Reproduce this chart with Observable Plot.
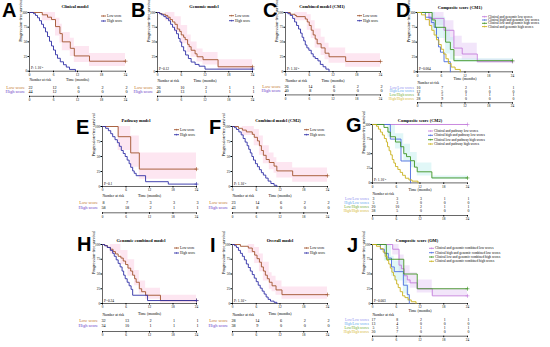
<!DOCTYPE html>
<html><head><meta charset="utf-8">
<script src="https://cdn.jsdelivr.net/npm/d3@7"></script>
<script src="https://cdn.jsdelivr.net/npm/@observablehq/plot@0.6"></script>
<style>
body{margin:0;background:#fff;}
#root{position:relative;width:550px;height:347px;overflow:hidden;background:#fff;}
</style></head><body><div id="root"></div>
<script>
// ---------- shared ticks ----------
const months = [0, 6, 12, 18, 24];
const survTicks = [0, 25, 50, 75, 100];

// ---------- A: Clinical model ----------
const A_low = [[0,100],[3.2,96],[4.5,92],[5.5,88],[6.5,76],[7.6,64],[8.2,50],[10.2,39],[11.2,26],[15,17],[24,17]];
const A_high = [[0,100],[1,98],[1.5,95],[2,91],[2.5,86],[3,80],[3.5,74],[4,67],[4.5,59],[5,51],[5.5,43],[6,36],[6.5,28],[7,22],[7.7,16],[8.5,11],[9.2,7],[10,3],[11.5,0]];
const A_lowBand = [[0,100,100],[3.2,86,100],[6.5,60,90],[7.6,48,80],[8.2,35,66],[10.2,25,56],[11.2,15,42],[15,8,30],[24,8,30]];
const A_riskLow = [22,12,6,2,2];
const A_riskHigh = [44,12,0,0,0];

// ---------- B: Genomic model ----------
const B_low = [[0,100],[0.6,98],[1.2,97],[2,95],[2.6,92],[3.2,88],[3.8,84],[4.4,80],[5,72],[5.6,68],[6,62],[6.6,58],[7,54],[7.6,46],[8,42],[8.5,36],[9.5,30],[10,25],[11.5,20],[15.3,8],[24,8]];
const B_high = [[0,100],[0.5,98],[1,96],[1.6,93],[2.2,90],[2.8,86],[3.3,80],[3.8,75],[4.3,70],[4.8,64],[5.3,56],[5.7,50],[6.1,42],[6.6,35],[7.1,28],[7.8,22],[8.5,16],[9.5,12],[10.5,9],[12,4],[24,4]];
const B_lowBand = [[0,100,100],[2,86,100],[4.4,66,93],[6,47,78],[7.6,32,62],[8.5,24,50],[10,16,38],[11.5,11,32],[15.3,3,20],[24,3,20]];
const B_riskLow = [26,10,2,1,1];
const B_riskHigh = [40,13,1,1,1];

// ---------- C: Combined model (CM1) ----------
const C_low = [[0,100],[1.2,97],[2.4,95],[2.8,93],[5,89],[5.5,84],[6,78],[6.5,70],[7,62],[7.5,55],[8,47],[9,40],[10,31],[11,25],[15.2,17],[24,17]];
const C_high = [[0,100],[0.6,98],[1.2,95],[1.8,90],[2.3,84],[2.8,78],[3.3,72],[3.8,65],[4.2,58],[4.6,52],[5,45],[5.4,40],[5.9,36],[6.5,30],[7,25],[7.5,22],[8.2,18],[8.8,12],[9.5,8],[10.2,4],[11,0]];
const C_lowBand = [[0,100,100],[2.4,86,100],[5.5,70,96],[6.5,56,86],[7.5,40,72],[9,27,58],[10,20,48],[11,14,40],[15.2,7,30],[24,7,30]];
const C_riskLow = [26,14,6,2,2];
const C_riskHigh = [40,8,0,0,0];

// ---------- D: Composite score (CM1) ----------
const D_LL = [[0,100],[2.9,90],[6.7,70],[9.2,40],[11.3,30],[15.1,17],[24,17]];
const D_HL = [[0,100],[2,92],[3.5,83],[4.2,75],[4.8,58],[5.3,42],[5.8,33],[6.7,17],[8.3,0]];
const D_LH = [[0,100],[3.7,87.5],[4.5,75],[7.1,50],[8.3,37.5],[9.2,18.75],[24,18.75]];
const D_HH = [[0,100],[1,96],[2,88],[3,78],[3.6,70],[4.2,62],[4.8,54],[5.4,46],[6,38],[6.6,30],[7.2,22],[7.8,14],[8.5,8],[9.5,4],[10.8,0]];
const D_LLBand = [[0,100,100],[2.9,78,100],[6.7,52,86],[9.2,26,60],[11.3,20,48],[15.1,15,21],[24,15,21]];
const D_LHBand = [[0,100,100],[3.7,70,100],[4.5,56,92],[7.1,30,72],[8.3,20,58],[9.2,16,22],[24,16,22]];
const D_risk = [[10,7,2,1,1],[12,5,0,0,0],[8,5,1,1,1],[28,9,0,0,0]];

// ---------- E: Pathway model ----------
const E_low = [[0,100],[4,83],[7.2,56],[9.4,29],[24,29]];
const E_high = [[0,100],[0.8,97],[1.5,93],[2.1,88],[2.6,83],[3.2,78],[3.8,73],[4.3,67],[4.8,60],[5.3,55],[5.8,50],[6.3,44],[6.8,38],[7.2,32],[7.7,26],[8.1,22],[8.6,18],[11,8],[16.8,4],[24,4]];
const E_lowBand = [[0,100,100],[4,60,100],[7.2,32,84],[9.4,12,56],[24,12,56]];
const E_riskLow = [8,7,3,3,3];
const E_riskHigh = [58,18,2,1,1];

// ---------- F: Combined model (CM2) ----------
const F_low = [[0,100],[1.5,97],[2.5,94],[3.5,91],[5,87],[5.5,82],[6.3,76],[6.8,68],[7.3,60],[7.8,52],[8.5,45],[9.3,40],[10.5,34],[11.2,26],[15.2,18],[24,18]];
const F_high = [[0,100],[0.5,98],[1,95],[1.6,91],[2.2,86],[2.7,80],[3.2,74],[3.7,68],[4.1,62],[4.5,56],[4.9,50],[5.3,44],[5.8,38],[6.3,33],[6.8,28],[7.3,23],[7.8,19],[8.4,14],[9,9],[9.7,5],[10.5,2],[11.2,0]];
const F_lowBand = [[0,100,100],[2.5,85,100],[5.5,68,95],[6.8,52,84],[7.8,38,68],[9.3,28,56],[10.5,22,48],[11.2,14,40],[15.2,7,31],[24,7,31]];
const F_riskLow = [23,14,6,2,2];
const F_riskHigh = [43,8,0,0,0];

// ---------- G: Composite score (CM2) ----------
const G_LL = [[0,100],[24,100]];
const G_HL = [[0,100],[4.5,75],[7.2,37.5],[9.6,0]];
const G_LH = [[0,100],[2.9,95],[3.9,87],[4.5,79],[5.8,70],[7.1,62],[7.9,50],[8.6,45],[9.6,38],[10.6,27],[11.3,19],[15,8.5],[24,8.5]];
const G_HH = [[0,100],[1,97],[1.5,92],[2,87],[2.5,82],[3,76],[3.5,70],[3.8,62],[4.2,55],[4.6,48],[5,40],[5.4,34],[5.8,28],[6.4,23],[7,18],[7.6,13],[8.3,8],[9.2,5],[10,3],[11.5,0]];
const G_LHBand = [[0,100,100],[3.9,78,100],[5.8,58,84],[7.9,36,66],[9.6,26,52],[11.3,12,34],[15,6,12],[24,6,12]];
const G_risk = [[3,3,3,1,1],[5,3,0,0,0],[20,10,2,1,1],[38,5,0,0,0]];

// ---------- H: Genomic combined model ----------
const H_low = [[0,100],[0.6,98],[1.3,95],[2,92],[2.7,88],[3.3,84],[4,80],[4.7,77],[5.3,72],[5.9,66],[6.5,60],[7.2,55],[7.7,48],[8.2,42],[8.6,36],[9.4,25],[10,20],[11,14],[14.8,5],[24,5]];
const H_high = [[0,100],[0.5,98],[1.2,95],[2,90],[2.6,85],[3,80],[3.5,74],[4,68],[4.5,62],[5,55],[5.4,48],[5.8,42],[6.3,36],[6.8,30],[7.3,24],[7.7,14],[11.5,5],[24,5]];
const H_lowBand = [[0,100,100],[2,84,100],[4.7,66,90],[6.5,46,74],[8.2,30,56],[9.4,16,38],[11,7,26],[14.8,1,14],[24,1,14]];
const H_riskLow = [32,13,2,1,1];
const H_riskHigh = [34,10,1,1,1];

// ---------- I: Overall model ----------
const I_low = [[0,100],[2,97],[4,94],[5,88],[5.6,82],[6.2,76],[6.8,70],[7.3,62],[7.8,55],[8.3,48],[8.8,42],[9.3,36],[10,30],[11,23],[12.5,15],[24,15]];
const I_high = [[0,100],[0.5,98],[1,95],[1.5,90],[2,85],[2.5,80],[3,74],[3.5,67],[4,61],[4.5,55],[5,49],[5.5,43],[6,37],[6.5,31],[7,26],[7.5,21],[8,16],[8.5,11],[9,7],[9.6,4],[10.5,2],[11.2,0]];
const I_lowBand = [[0,100,100],[4,85,100],[5.6,68,95],[6.8,54,84],[7.8,38,70],[9.3,24,52],[10,20,46],[11,14,38],[12.5,7,28],[24,7,28]];
const I_riskLow = [28,14,6,2,2];
const I_riskHigh = [38,9,0,0,0];

// ---------- J: Composite score (OM) ----------
const J_LL = [[0,100],[5.1,92],[6.7,65],[7.3,59],[8,47],[8.8,40],[9.5,35],[11.3,25],[15.1,13],[24,13]];
const J_HL = [[0,100],[2,92],[3,85],[4,77],[4.8,62],[5.5,54],[7.8,31],[8.8,15],[9.3,0]];
const J_LH = [[0,100],[3.5,75],[7.9,50],[11.3,25],[24,25]];
const J_HH = [[0,100],[1,97],[2,93],[2.7,87],[3.2,80],[3.7,73],[4.1,67],[4.5,60],[4.9,53],[5.3,47],[5.7,40],[6.1,33],[6.5,27],[7,20],[7.6,13],[8.2,10],[9,6],[9.8,3],[11,0]];
const J_LLBand = [[0,100,100],[5.1,82,100],[6.7,52,82],[8,34,64],[9.5,26,52],[11.3,18,40],[15.1,13,25],[24,13,25]];
const J_HLBand = [[0,100,100],[3,72,100],[4.8,46,80],[5.5,38,72],[7.8,16,50],[8.8,4,32],[9.3,0,0]];
const J_risk = [[17,8,2,1,1],[13,4,0,0,0],[5,3,1,1,1],[30,7,0,0,0]];

// ---------- labels ----------
const twoLabels = ["Low score", "High score"];
const compTableLabels = ["Low/Low scores", "High/Low scores", "Low/High scores", "High/High scores"];
const D_legend = ["Clinical and genomic low scores","Clinical high and genomic low scores","Clinical low and genomic high scores","Clinical and genomic high scores"];
const G_legend = ["Clinical and pathway low scores","Clinical high and pathway low scores","Clinical low and pathway high scores","Clinical and pathway high scores"];
const J_legend = ["Clinical and genomic combined low scores","Clinical high and genomic combined low scores","Clinical low and genomic combined high scores","Clinical and genomic combined high scores"];

// ---------- styles ----------
const LOW = "#a0522d", HIGH = "#2f2fa6";
const LOW_TXT = "#c47a30", HIGH_TXT = "#6a3cc8";
const CC = ["#c47ddb", "#4d6de0", "#3e9422", "#c9b11c"];
const CT = ["#8c8cf0", "#5aa6ee", "#6aa82c", "#d4b42a"];
const BAND = "#fbcde4", LAV = "#e2c6f4", CYAN = "#bdeeee";
const SERIF = "Liberation Serif, Times New Roman, serif";

const root = document.getElementById("root");

function place(svg, left, top) {
  svg.style.position = "absolute";
  svg.style.left = left + "px";
  svg.style.top = top + "px";
  root.appendChild(svg);
}

function curvePanel(p) {
  const mL = 46, mR = 6, mT = 4, mB = 16;
  const w = p.x1 - p.x0, h = p.yBot - p.yTop;
  const marks = [];
  (p.bands || []).forEach(b => marks.push(Plot.areaY(b.data, {x: d => d[0], y1: d => d[1], y2: d => d[2], curve: "step-after", fill: b.color, fillOpacity: b.op})));
  marks.push(Plot.ruleY([0], {strokeWidth: 0.6}));
  marks.push(Plot.ruleX([0], {strokeWidth: 0.6}));
  p.curves.forEach(c => {
    marks.push(Plot.line(c.data, {x: d => d[0], y: d => d[1], curve: "step-after", stroke: c.color, strokeWidth: 0.9}));
    const last = c.data[c.data.length - 1];
    if (last[1] > 0) marks.push(Plot.dot([last], {x: d => d[0], y: d => d[1], symbol: "plus", r: 1.4, stroke: c.color, strokeWidth: 0.6}));
  });
  marks.push(Plot.axisX({ticks: months, tickSize: 1.5, tickPadding: 0.8, label: null, fontSize: 3.4}));
  marks.push(Plot.axisY({ticks: survTicks, tickSize: 1.5, tickPadding: 0.8, label: null, fontSize: 3.4}));
  marks.push(Plot.text(["Progression-free survival"], {frameAnchor: "left", rotate: -90, dx: -9, fontSize: 4.3}));
  marks.push(Plot.text(["Time (months)"], {frameAnchor: "bottom", lineAnchor: "middle", dy: p.timeY - p.yBot, fontSize: 3.9}));
  marks.push(Plot.text(["Number at risk"], {frameAnchor: "bottom-left", textAnchor: "start", lineAnchor: "middle", dy: p.nrY - p.yBot, fontSize: 3.6}));
  marks.push(Plot.text([p.pval], {frameAnchor: "bottom-left", textAnchor: "start", lineAnchor: "middle", dx: 1.5, dy: -3, fontSize: 3.5}));
  const svg = Plot.plot({
    width: w + mL + mR, height: h + mT + mB,
    marginLeft: mL, marginRight: mR, marginTop: mT, marginBottom: mB,
    x: {domain: [0, 24]}, y: {domain: [0, 100]},
    style: {background: "transparent", overflow: "visible", fontFamily: SERIF, fontSize: "3.4px", color: "black"},
    marks
  });
  place(svg, p.x0 - mL, p.yTop - mT);
}

function riskTable(p) {
  const rows = p.rows, n = rows.length;
  const mL = 40, mR = 6, mT = 3, mB = 7;
  const innerH = p.axisY - p.row0Y;
  const cells = [];
  rows.forEach((r, i) => r.values.forEach((v, j) => cells.push({t: months[j], y: n - i, v})));
  const marks = [
    Plot.ruleY([0], {strokeWidth: 0.6}),
    Plot.axisX({ticks: months, tickSize: 1.5, tickPadding: 0.8, label: null, fontSize: 3.4}),
    Plot.text(cells, {x: "t", y: "y", text: d => String(d.v), fontSize: p.numSize, dx: 1})
  ];
  rows.forEach((r, i) => marks.push(Plot.text([r.label], {y: () => n - i, frameAnchor: "left", textAnchor: "end", dx: p.labelDx, fill: r.color, fontSize: p.labelSize})));
  const svg = Plot.plot({
    width: (p.x1 - p.x0) + mL + mR, height: innerH + mT + mB,
    marginLeft: mL, marginRight: mR, marginTop: mT, marginBottom: mB,
    x: {domain: [0, 24]}, y: {domain: [0, n], axis: null},
    style: {background: "transparent", overflow: "visible", fontFamily: SERIF, fontSize: "3.4px", color: "black"},
    marks
  });
  place(svg, p.x0 - mL, p.row0Y - mT);
}

// ---------- panel layout ----------
function two(id, x0, x1, yTop, yBot, low, high, band, rLow, rHigh, o) {
  return Object.assign({id, x0, x1, yTop, yBot,
    curves: [{data: low, color: LOW}, {data: high, color: HIGH}], bands: [{data: band, color: BAND, op: 0.5}],
    legend: twoLabels.map((l, i) => ({label: l, color: i ? HIGH : LOW})),
    legendX: x0 + 72, legendY: [yTop + 3.7, yTop + 8.7], legendSize: 3.5,
    rows: [{label: twoLabels[0], color: LOW_TXT, values: rLow}, {label: twoLabels[1], color: HIGH_TXT, values: rHigh}],
    labelDx: -4.5, labelSize: 4.5, numSize: 4.2}, o);
}
function comp(id, x0, x1, yTop, yBot, series, risk, legend, bands, o) {
  return Object.assign({id, x0, x1, yTop, yBot,
    curves: series.map((s, i) => ({data: s, color: CC[i]})), bands,
    legend: legend.map((l, i) => ({label: l, color: CC[i]})), legendSize: 3.4,
    rows: compTableLabels.map((l, i) => ({label: l, color: CT[i], values: risk[i]})),
    labelDx: -3.5, labelSize: 3.6, numSize: 3.8}, o);
}

const panels = [
  two("A", 29, 125, 12.3, 71, A_low, A_high, A_lowBand, A_riskLow, A_riskHigh,
    {title: "Clinical model", titleX: 75, titleY: 8.3, letterX: 2, letterY: 17, pval: "P: 1.10⁻⁵", timeY: 80, nrY: 80, row0Y: 86.7, axisY: 95.5}),
  two("B", 157, 252, 12, 71, B_low, B_high, B_lowBand, B_riskLow, B_riskHigh,
    {title: "Genomic model", titleX: 204, titleY: 8.3, letterX: 131, letterY: 17, pval: "P=0.12", timeY: 80, nrY: 80, row0Y: 86.5, axisY: 95.3}),
  two("C", 285, 380, 12, 71, C_low, C_high, C_lowBand, C_riskLow, C_riskHigh,
    {title: "Combined model (CM1)", titleX: 322, titleY: 8.3, letterX: 263, letterY: 17, pval: "P: 1.10⁻⁵", timeY: 80, nrY: 80, row0Y: 86.2, axisY: 94.6}),
  comp("D", 417, 512, 11.7, 71, [D_LL, D_HL, D_LH, D_HH], D_risk, D_legend,
    [{data: D_LLBand, color: LAV, op: 0.45}, {data: D_LHBand, color: CYAN, op: 0.45}],
    {title: "Composite score (CM1)", titleX: 460, titleY: 8.5, letterX: 396, letterY: 17, pval: "P=0.004", timeY: 78.2, nrY: 82.5, row0Y: 87.2, axisY: 102.4, legendX: 482, legendY: [16.7, 20, 23.3, 26.6]}),
  two("E", 102, 196, 126, 186, E_low, E_high, E_lowBand, E_riskLow, E_riskHigh,
    {title: "Pathway model", titleX: 136, titleY: 121.5, letterX: 76, letterY: 134, pval: "P=0.1", timeY: 195.5, nrY: 195.5, row0Y: 202, axisY: 212.3}),
  two("F", 232, 327, 126, 186, F_low, F_high, F_lowBand, F_riskLow, F_riskHigh,
    {title: "Combined model (CM2)", titleX: 278, titleY: 121.5, letterX: 209, letterY: 134, pval: "P: 1.10⁻⁵", timeY: 195.5, nrY: 195.5, row0Y: 202, axisY: 212.3}),
  comp("G", 372, 467, 124.3, 182.7, [G_LL, G_HL, G_LH, G_HH], G_risk, G_legend,
    [{data: G_LHBand, color: CYAN, op: 0.45}],
    {title: "Composite score (CM2)", titleX: 420, titleY: 121.5, letterX: 346, letterY: 131.5, pval: "P: 1.10⁻⁵", timeY: 190, nrY: 193.5, row0Y: 198.3, axisY: 215.3, legendX: 428, legendY: [131, 135.3, 139.7, 144]}),
  two("H", 102, 196, 244.3, 303.3, H_low, H_high, H_lowBand, H_riskLow, H_riskHigh,
    {title: "Genomic combined model", titleX: 141, titleY: 242.2, letterX: 77, letterY: 250.5, pval: "P=0.24", timeY: 314, nrY: 315, row0Y: 320, axisY: 331}),
  two("I", 232, 327, 244.3, 303.3, I_low, I_high, I_lowBand, I_riskLow, I_riskHigh,
    {title: "Overall model", titleX: 280, titleY: 242.2, letterX: 210, letterY: 252, pval: "P: 1.10⁻⁵", timeY: 314, nrY: 315, row0Y: 320, axisY: 331}),
  comp("J", 372, 467, 244.3, 303.3, [J_LL, J_HL, J_LH, J_HH], J_risk, J_legend,
    [{data: J_LLBand, color: LAV, op: 0.45}, {data: J_HLBand, color: CYAN, op: 0.45}],
    {title: "Composite score (OM)", titleX: 417, titleY: 241.5, letterX: 347, letterY: 251.5, pval: "P=0.003", timeY: 311, nrY: 315, row0Y: 319.3, axisY: 336, legendX: 429, legendY: [248.3, 252.7, 257, 261.3]})
];

panels.forEach(p => { curvePanel(p); riskTable(p); });

// ---------- overlay: panel letters, titles, legends ----------
const ov = d3.select(root).append("svg")
  .attr("width", 550).attr("height", 347)
  .style("position", "absolute").style("left", 0).style("top", 0);
panels.forEach(p => {
  ov.append("text").attr("x", p.letterX).attr("y", p.letterY)
    .attr("font-family", "Liberation Sans, Arial, sans-serif").attr("font-weight", "bold").attr("font-size", 20).text(p.id);
  ov.append("text").attr("x", p.titleX).attr("y", p.titleY).attr("text-anchor", "middle")
    .attr("font-family", SERIF).attr("font-weight", "bold").attr("font-size", 4.4).text(p.title);
  p.legend.forEach((it, i) => {
    const y = p.legendY[i], x = p.legendX;
    ov.append("line").attr("x1", x).attr("x2", x + 5).attr("y1", y).attr("y2", y).attr("stroke", it.color).attr("stroke-width", 0.9);
    ov.append("line").attr("x1", x + 2.5).attr("x2", x + 2.5).attr("y1", y - 0.9).attr("y2", y + 0.9).attr("stroke", it.color).attr("stroke-width", 0.5);
    ov.append("text").attr("x", x + 6).attr("y", y + p.legendSize * 0.34)
      .attr("font-family", SERIF).attr("font-size", p.legendSize).text(it.label);
  });
});
</script>
</body></html>
